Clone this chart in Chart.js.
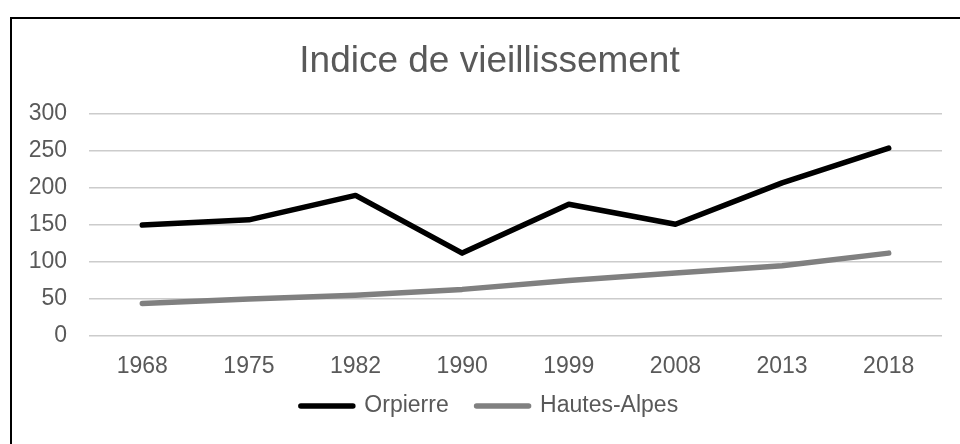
<!DOCTYPE html>
<html>
<head>
<meta charset="utf-8">
<script src="https://cdn.jsdelivr.net/npm/chart.js@4/dist/chart.umd.min.js"></script>
<style>
    body { margin: 0; background: #fff; overflow: hidden; width: 960px; height: 444px; }
    #frame { position: absolute; left: 10px; top: 17px; width: 955px; height: 440px; border: 2px solid #000; }
    canvas { display: block; }
</style>
</head>
<body>
<div id="frame"><canvas id="chart" width="955" height="420"></canvas></div>
<script>
// Données
const years = ['1968', '1975', '1982', '1990', '1999', '2008', '2013', '2018'];
const orpierre = [150, 157, 190, 112, 178, 151, 207, 254];
const hautesAlpes = [44, 50, 55, 63, 75, 85, 95, 112];

const textColor = '#595959';
const fontFamily = '"Liberation Sans", Arial, sans-serif';

function renderChart() {
    const ctx = document.getElementById('chart').getContext('2d');
    new Chart(ctx, {
        type: 'line',
        data: {
            labels: years,
            datasets: [{
                label: 'Orpierre',
                data: orpierre,
                borderColor: '#000000',
                backgroundColor: '#000000',
                borderWidth: 5.5,
                borderCapStyle: 'round',
                borderJoinStyle: 'round',
                pointRadius: 0,
                tension: 0
            }, {
                label: 'Hautes-Alpes',
                data: hautesAlpes,
                borderColor: '#808080',
                backgroundColor: '#808080',
                borderWidth: 5.5,
                borderCapStyle: 'round',
                borderJoinStyle: 'round',
                pointRadius: 0,
                tension: 0
            }]
        },
        options: {
            responsive: false,
            animation: false,
            layout: {
                padding: { left: 0, right: 0, top: 0, bottom: 11.5 }
            },
            scales: {
                x: {
                    offset: true,
                    grid: { display: false },
                    border: { display: false },
                    ticks: {
                        color: textColor,
                        padding: 9,
                        maxRotation: 0,
                        font: { size: 23, family: fontFamily }
                    },
                    afterFit: scale => { scale.height = 48.5; }
                },
                y: {
                    min: 0,
                    max: 300,
                    grid: { color: '#cccccc', lineWidth: 1.5, drawTicks: false },
                    border: { display: false },
                    ticks: {
                        stepSize: 50,
                        color: textColor,
                        padding: 22,
                        font: { size: 23, family: fontFamily }
                    },
                    afterFit: scale => { scale.width = 77; }
                },
                // axe vide à droite, juste pour la marge
                yRight: {
                    position: 'right',
                    grid: { display: false },
                    border: { display: false },
                    ticks: { display: false },
                    afterFit: scale => { scale.width = 25; }
                }
            },
            plugins: {
                title: {
                    display: true,
                    text: 'Indice de vieillissement',
                    color: textColor,
                    font: { size: 37, weight: 'normal', family: fontFamily, lineHeight: 1.2 },
                    padding: { top: 20.8, bottom: 29.8 }
                },
                legend: {
                    position: 'bottom',
                    labels: {
                        color: textColor,
                        font: { size: 23, family: fontFamily },
                        usePointStyle: true,
                        pointStyleWidth: 52,
                        padding: 10,
                        generateLabels: chart => chart.data.datasets.map((ds, i, all) => ({
                            text: i < all.length - 1 ? ds.label + '\u2002 ' : ds.label,
                            fillStyle: ds.borderColor,
                            strokeStyle: ds.borderColor,
                            lineWidth: 5.5,
                            lineCap: 'round',
                            pointStyle: 'line',
                            fontColor: textColor,
                            hidden: false,
                            datasetIndex: i
                        }))
                    }
                },
                tooltip: { enabled: false }
            }
        }
    });
}

document.addEventListener('DOMContentLoaded', () => {
    renderChart();
});
</script>
</body>
</html>
